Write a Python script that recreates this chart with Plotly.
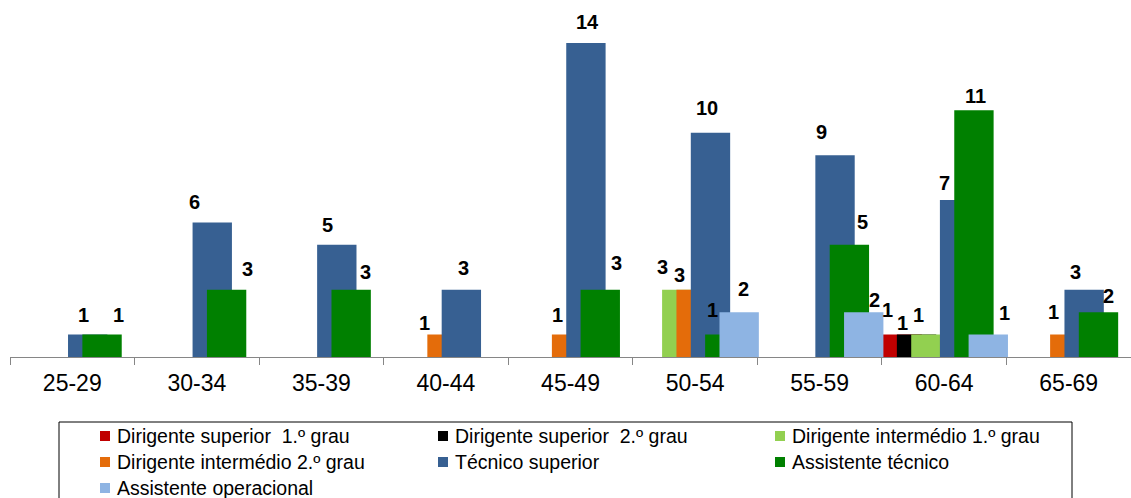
import plotly.graph_objects as go

# Age groups on the category axis
categories = ["25-29", "30-34", "35-39", "40-44", "45-49", "50-54", "55-59", "60-64", "65-69"]

# Headcount per professional group and age group
dirigente_superior_1 = [0, 0, 0, 0, 0, 0, 0, 1, 0]
dirigente_superior_2 = [0, 0, 0, 0, 0, 0, 0, 1, 0]
dirigente_intermedio_1 = [0, 0, 0, 0, 0, 3, 0, 1, 0]
dirigente_intermedio_2 = [0, 0, 0, 1, 1, 3, 0, 0, 1]
tecnico_superior = [1, 6, 5, 3, 14, 10, 9, 7, 3]
assistente_tecnico = [1, 3, 3, 0, 3, 1, 5, 11, 2]
assistente_operacional = [0, 0, 0, 0, 0, 2, 2, 1, 0]

series = [
    ("Dirigente superior  1.º grau", dirigente_superior_1, "#C00000"),
    ("Dirigente superior  2.º grau", dirigente_superior_2, "#000000"),
    ("Dirigente intermédio 1.º grau", dirigente_intermedio_1, "#92D050"),
    ("Dirigente intermédio 2.º grau", dirigente_intermedio_2, "#E46C0A"),
    ("Técnico superior", tecnico_superior, "#376092"),
    ("Assistente técnico", assistente_tecnico, "#008000"),
    ("Assistente operacional", assistente_operacional, "#8EB4E3"),
]

# Figure / plot-area geometry in pixels
FIG_W, FIG_H = 1131, 498
PLOT_L, PLOT_W = 10, 1121
PLOT_T, PLOT_H = 0, 357


def px_x(px):
    return (px - PLOT_L) / PLOT_W


def px_y(py):
    return (PLOT_T + PLOT_H - py) / PLOT_H


# Overlapping bar layout inside each category (category = 1 unit)
BAR_WIDTH = 0.316
BAR_STEP = 0.1152
FIRST_OFFSET = -0.495

# Pixel nudges (dx, dy) for the value labels, relative to bar centre / bar top
label_nudge = {
    (4, 0): (-4, 20), (5, 0): (16, 20),
    (4, 1): (-18, 20), (5, 1): (21, 21),
    (4, 2): (-9, 20), (5, 2): (14, 18),
    (3, 3): (-23, 12), (4, 3): (2, 22),
    (3, 4): (-14, 20), (4, 4): (2, 21), (5, 4): (16, 27),
    (2, 5): (-19, 23), (3, 5): (-17, 15), (4, 5): (-3, 25), (5, 5): (-12, 25), (6, 5): (4, 23),
    (4, 6): (-14, 23), (5, 6): (13, 23), (6, 6): (11, 12),
    (0, 7): (-15, 25), (1, 7): (-14, 12), (2, 7): (-12, 20), (4, 7): (-15, 17),
    (5, 7): (2, 14), (6, 7): (16, 22),
    (3, 8): (-16, 23), (4, 8): (-9, 18), (5, 8): (10, 16),
}

FONT = "Liberation Sans, Arial, sans-serif"

fig = go.Figure()
annotations = []
shapes = []
for i, (name, values, color) in enumerate(series):
    offset = FIRST_OFFSET + i * BAR_STEP
    fig.add_trace(go.Bar(
        name=name,
        x=categories,
        y=[v if v else None for v in values],
        offset=offset,
        width=BAR_WIDTH,
        marker=dict(color=color, line=dict(width=0)),
        hoverinfo="x+y+name",
        showlegend=False,
    ))
    for c, v in enumerate(values):
        if not v:
            continue
        dx, dy = label_nudge.get((i, c), (0, 20))
        annotations.append(dict(
            x=c + offset + BAR_WIDTH / 2, y=v, xref="x", yref="y",
            text=f"<b>{v}</b>", showarrow=False,
            xanchor="center", yanchor="middle",
            xshift=dx, yshift=dy,
            font=dict(family=FONT, size=20, color="#000000"),
        ))

# Legend: boxed, three columns, small square keys
LEG_TEXT_X = [115, 453, 790]
LEG_ROW_Y = [436, 462, 488]
LEG_KEY = 10
LEG_GAP = 5
shapes.append(dict(
    type="rect", xref="paper", yref="paper",
    x0=px_x(59), x1=px_x(1072), y0=px_y(422), y1=px_y(530),
    line=dict(color="#000000", width=1),
    fillcolor="rgba(0,0,0,0)", layer="below",
))
for i, (name, _, color) in enumerate(series):
    col, row = i % 3, i // 3
    tx, ty = LEG_TEXT_X[col], LEG_ROW_Y[row]
    kx1 = tx - LEG_GAP
    shapes.append(dict(
        type="rect", xref="paper", yref="paper",
        x0=px_x(kx1 - LEG_KEY), x1=px_x(kx1),
        y0=px_y(ty + LEG_KEY / 2), y1=px_y(ty - LEG_KEY / 2),
        line=dict(width=0), fillcolor=color,
    ))
    annotations.append(dict(
        x=px_x(tx), y=px_y(ty), xref="paper", yref="paper",
        text=name, showarrow=False, xanchor="left", yanchor="middle",
        font=dict(family=FONT, size=19.5, color="#000000"),
    ))

fig.update_layout(
    width=FIG_W, height=FIG_H,
    margin=dict(l=PLOT_L, r=FIG_W - PLOT_L - PLOT_W, t=PLOT_T,
                b=FIG_H - PLOT_T - PLOT_H, autoexpand=False),
    barmode="overlay",
    plot_bgcolor="#FFFFFF",
    paper_bgcolor="#FFFFFF",
    font=dict(family=FONT, color="#000000"),
    showlegend=False,
    annotations=annotations,
    shapes=shapes,
)

fig.update_xaxes(
    type="category",
    range=[-0.5, 8.5],
    showline=True, linecolor="#868686", linewidth=1,
    ticks="outside", tickson="boundaries", ticklen=7, tickcolor="#868686",
    ticklabelstandoff=5,
    tickfont=dict(family=FONT, size=23, color="#000000"),
    showgrid=False, zeroline=False,
)
fig.update_yaxes(visible=False, range=[0, 15.916], showgrid=False, zeroline=False)

fig.write_html("out.html")
